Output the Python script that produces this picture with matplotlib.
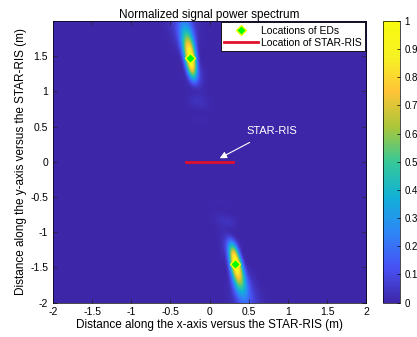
import numpy as np
import matplotlib
matplotlib.use("Agg")
import matplotlib.pyplot as plt
from matplotlib.colors import LinearSegmentedColormap
from matplotlib.lines import Line2D

# ---- data ----
ed_x = [-0.25, 0.33]
ed_y = [1.48, -1.45]
ris_x = [-0.3, 0.3]
ris_y = [0.0, 0.0]
x_ticks = [-2, -1.5, -1, -0.5, 0, 0.5, 1, 1.5, 2]
y_ticks = [-2, -1.5, -1, -0.5, 0, 0.5, 1, 1.5]
cb_ticks = [0, 0.1, 0.2, 0.3, 0.4, 0.5, 0.6, 0.7, 0.8, 0.9, 1]

# field model parameters (near-field beamfocusing of a planar STAR-RIS)
wavelength = 0.08
aperture_x = 1.5
aperture_z = 1.5

# parula-like colormap
parula_pts = [
    (0.2422, 0.1504, 0.6603), (0.2810, 0.3228, 0.9579), (0.1786, 0.5289, 0.9682),
    (0.0689, 0.6948, 0.8394), (0.2161, 0.7843, 0.5923), (0.6720, 0.7793, 0.2227),
    (0.9970, 0.7659, 0.2199), (0.9657, 0.9494, 0.1423), (0.9763, 0.9831, 0.0538)]
parula = LinearSegmentedColormap.from_list("parula", parula_pts)

# ---- compute spectrum ----
gx = np.linspace(-2, 2, 301)
gy = np.linspace(-2, 2, 301)
X, Y = np.meshgrid(gx, gy)
N = int(round(aperture_x / (wavelength / 2))) + 1
M = int(round(aperture_z / (wavelength / 2))) + 1
elx = np.linspace(-aperture_x / 2, aperture_x / 2, N)
elz = np.linspace(-aperture_z / 2, aperture_z / 2, M)
wx = np.hanning(N + 2)[1:-1]
k = 2 * np.pi / wavelength
P = np.zeros_like(X)
for ex, ey, upper in [(ed_x[0], ed_y[0], True), (ed_x[1], ed_y[1], False)]:
    mask = (Y >= 0) if upper else (Y < 0)
    xs, ys = X[mask], Y[mask]
    af = np.zeros(xs.shape, dtype=complex)
    for xn, wn in zip(elx, wx):
        dx2 = (xs - xn) ** 2 + ys ** 2
        du2 = (ex - xn) ** 2 + ey ** 2
        for zm in elz:
            af += wn * np.exp(-1j * k * (np.sqrt(dx2 + zm ** 2) - np.sqrt(du2 + zm ** 2)))
    p = np.abs(af) ** 2
    P[mask] = p / p.max()

# ---- plot ----
plt.rcParams['font.family'] = ['Liberation Sans', 'DejaVu Sans']
fig = plt.figure(figsize=(4.17, 3.37), dpi=100)
ax = fig.add_axes([0.127, 0.102, 0.751, 0.836])
im = ax.imshow(P, extent=[-2, 2, -2, 2], origin='lower', aspect='auto',
               cmap=parula, vmin=0, vmax=1, interpolation='bilinear')
ax.plot(ris_x, ris_y, color='#e0102a', lw=2, label='Location of STAR-RIS')
ax.plot(ed_x, ed_y, linestyle='none', marker='D', ms=5, mfc='#00ff00', mec='#ffff00',
        mew=1, label='Locations of EDs')
ax.annotate('STAR-RIS', xy=(0.13, 0.05), xytext=(0.47, 0.44), color='white',
            fontsize=8, ha='left', va='center',
            arrowprops=dict(arrowstyle='-|>', color='white', lw=0.8,
                            shrinkA=6, shrinkB=0, mutation_scale=10))
ax.set_xlim(-2, 2)
ax.set_ylim(-2, 2)
ax.set_xticks(x_ticks)
ax.set_xticklabels([f'{t:g}' for t in x_ticks])
ax.set_yticks(y_ticks)
ax.set_yticklabels([f'{t:g}' for t in y_ticks])
ax.tick_params(direction='in', top=True, right=True, labelsize=7.5, length=3,
               color='#262626', width=0.5)
for s in ax.spines.values():
    s.set_linewidth(0.5)
ax.set_title('Normalized signal power spectrum', fontsize=8.5, pad=2)
ax.set_xlabel('Distance along the x-axis versus the STAR-RIS (m)', fontsize=8.5, labelpad=1)
ax.set_ylabel('Distance along the y-axis versus the STAR-RIS (m)', fontsize=8.5, labelpad=2)

handles = [Line2D([], [], linestyle='none', marker='D', ms=5, mfc='#00ff00', mec='#ffff00', mew=1),
           Line2D([], [], color='#e0102a', lw=2)]
leg = ax.legend(handles, ['Locations of EDs', 'Location of STAR-RIS'], loc='upper right',
                fontsize=7.5, frameon=True, fancybox=False, edgecolor='black',
                framealpha=1, borderaxespad=0.15, handlelength=3.2, borderpad=0.3,
                labelspacing=0.2, handletextpad=0.3)
leg.get_frame().set_linewidth(0.6)

cax = fig.add_axes([0.918, 0.102, 0.041, 0.836])
cb = fig.colorbar(im, cax=cax, ticks=cb_ticks)
cb.ax.set_yticklabels([f'{t:g}' for t in cb_ticks])
cb.ax.tick_params(labelsize=7, direction='in', length=2.5, width=0.5)
cb.outline.set_linewidth(0.5)

fig.savefig('out.png', dpi=100)
